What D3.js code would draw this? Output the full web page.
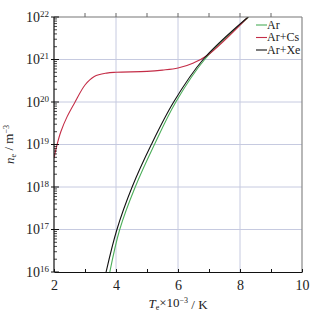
<!DOCTYPE html>
<html>
<head>
<meta charset="utf-8">
<script src="https://cdn.jsdelivr.net/npm/d3@7"></script>
<style>
  body { margin: 0; background: #fff; }
  text { font-family: "Liberation Serif", "DejaVu Serif", serif; fill: #222; }
</style>
</head>
<body>
<div id="chart"></div>
<script>
// electron density vs electron temperature, three gas mixtures
// values as [T (x10^3 K), log10 n_e]

const seriesNames = ["Ar", "Ar+Cs", "Ar+Xe"]
const seriesColors = ["#4cae5a", "#c42d47", "#111111"]

const arPts = [[3.8,16],[4.12,17],[4.62,18],[5.24,19],[5.93,20],[6.86,21],[8.28,22]]
const arCsPts = [[2.0,18.68],[2.1,19.0],[2.22,19.3],[2.42,19.65],[2.68,20.0],[3.0,20.4],[3.3,20.6],[3.7,20.68],[4.0,20.7],[5.0,20.72],[5.5,20.75],[6.0,20.8],[6.5,20.92],[6.95,21.1],[8.26,22]]
const arXePts = [[3.68,16],[4.03,17],[4.52,18],[5.14,19],[5.86,20],[6.81,21],[8.26,22]]

const xTicks = [2, 4, 6, 8, 10]
const yDecades = [16, 17, 18, 19, 20, 21, 22]

const W = 322, H = 314
const margin = { top: 17, right: 20, bottom: 42, left: 54 }
const width = W - margin.left - margin.right
const height = H - margin.top - margin.bottom

const svg = d3.select("#chart").append("svg")
  .attr("width", W).attr("height", H)

const g = svg.append("g").attr("transform", `translate(${margin.left},${margin.top})`)

const x = d3.scaleLinear().domain([2, 10]).range([0, width])
const y = d3.scaleLog().domain([1e16, 1e22]).range([height, 0])

const gridColor = "#c6cae0"

// grid lines
g.append("g").selectAll("line")
  .data([4, 6, 8]).join("line")
  .attr("x1", d => x(d)).attr("x2", d => x(d))
  .attr("y1", 0).attr("y2", height)
  .attr("stroke", gridColor).attr("stroke-width", 1)

g.append("g").selectAll("line")
  .data(yDecades.slice(1, -1)).join("line")
  .attr("x1", 0).attr("x2", width)
  .attr("y1", d => y(Math.pow(10, d))).attr("y2", d => y(Math.pow(10, d)))
  .attr("stroke", gridColor).attr("stroke-width", 1)

// curves, clipped to the plot box
svg.append("defs").append("clipPath").attr("id", "clip")
  .append("rect").attr("width", width).attr("height", height)

const line = d3.line()
  .x(d => x(d[0]))
  .y(d => y(Math.pow(10, d[1])))
  .curve(d3.curveCatmullRom.alpha(0.5))

const allPts = [arPts, arCsPts, arXePts]
g.append("g").attr("clip-path", "url(#clip)")
  .selectAll("path")
  .data(allPts).join("path")
  .attr("d", line)
  .attr("fill", "none")
  .attr("stroke", (d, i) => seriesColors[i])
  .attr("stroke-width", 1.1)

// box: top and right in gray
g.append("line").attr("x1", 0).attr("x2", width).attr("y1", 0).attr("y2", 0)
  .attr("stroke", "#777").attr("stroke-width", 1.2)
g.append("line").attr("x1", width).attr("x2", width).attr("y1", 0).attr("y2", height)
  .attr("stroke", "#888").attr("stroke-width", 1.2)

// top ticks pointing outward
g.append("g").selectAll("line")
  .data(d3.range(3, 10)).join("line")
  .attr("x1", d => x(d)).attr("x2", d => x(d))
  .attr("y1", -4).attr("y2", 0)
  .attr("stroke", "#666").attr("stroke-width", 1)

// bottom axis
const xAxis = g.append("g").attr("transform", `translate(0,${height})`)
  .call(d3.axisBottom(x).tickValues(d3.range(2, 11)).tickSizeInner(-3).tickSizeOuter(0)
    .tickFormat(d => xTicks.includes(d) ? d : ""))
xAxis.select(".domain").attr("stroke", "#111").attr("stroke-width", 1.2)
xAxis.selectAll(".tick line").attr("stroke", "#111")
xAxis.selectAll(".tick text")
  .attr("y", 8).attr("dy", "0.71em")
  .style("font-family", "Liberation Serif, serif").style("font-size", "14px").attr("fill", "#222")

// left axis, decades plus minor log ticks
const minor = []
yDecades.slice(0, -1).forEach(k => {
  for (let m = 2; m <= 9; m++) minor.push(m * Math.pow(10, k))
})
g.append("g").selectAll("line")
  .data(minor).join("line")
  .attr("x1", 0).attr("x2", 3)
  .attr("y1", d => y(d)).attr("y2", d => y(d))
  .attr("stroke", "#111").attr("stroke-width", 0.8)

g.append("line").attr("x1", 0).attr("x2", 0).attr("y1", 0).attr("y2", height)
  .attr("stroke", "#111").attr("stroke-width", 1.2)

const yMaj = g.append("g").selectAll("g")
  .data(yDecades).join("g")
  .attr("transform", d => `translate(0,${y(Math.pow(10, d))})`)
yMaj.append("line").attr("x1", -3).attr("x2", 5).attr("stroke", "#111").attr("stroke-width", 1)
const yLab = yMaj.append("text")
  .attr("x", -5).attr("y", 0).attr("dy", "0.35em")
  .attr("text-anchor", "end")
  .style("font-size", "14px")
yLab.append("tspan").text("10")
yLab.append("tspan").attr("dy", "-0.55em").style("font-size", "9px").text(d => d)

// axis titles
const xt = svg.append("text")
  .attr("x", margin.left + x(6)).attr("y", 308)
  .attr("text-anchor", "middle")
  .style("font-size", "13px")
xt.append("tspan").style("font-style", "italic").text("T")
xt.append("tspan").attr("dy", "0.3em").style("font-size", "8px").text("e")
xt.append("tspan").attr("dy", "-0.3em").text("\u00d710")
xt.append("tspan").attr("dy", "-0.45em").style("font-size", "8px").text("\u22123")
xt.append("tspan").attr("dy", "0.45em").text(" / K")

const yt = svg.append("text")
  .attr("transform", `translate(14,${margin.top + height / 2}) rotate(-90)`)
  .attr("text-anchor", "middle")
  .style("font-size", "13px")
yt.append("tspan").style("font-style", "italic").text("n")
yt.append("tspan").attr("dy", "0.3em").style("font-size", "8px").text("e")
yt.append("tspan").attr("dy", "-0.3em").text(" / m")
yt.append("tspan").attr("dy", "-0.45em").style("font-size", "8px").text("\u22123")

// legend
const legend = svg.append("g").attr("transform", "translate(256,25)")
const rows = legend.selectAll("g")
  .data(seriesNames).join("g")
  .attr("transform", (d, i) => `translate(0,${i * 12.5})`)
rows.append("line").attr("x1", 0).attr("x2", 11)
  .attr("stroke", (d, i) => seriesColors[i]).attr("stroke-width", 1.1)
rows.append("text").attr("x", 11).attr("dy", "0.33em")
  .style("font-size", "12px").text(d => d)
</script>
</body>
</html>
